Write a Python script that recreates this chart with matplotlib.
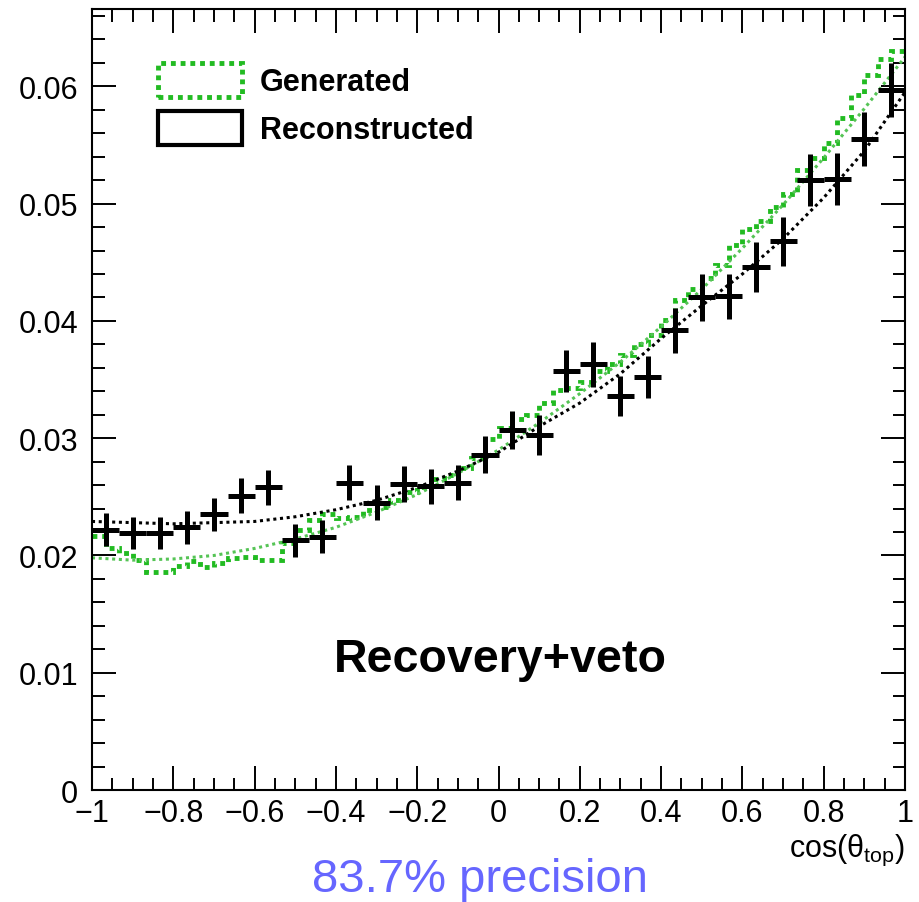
import numpy as np
import matplotlib
matplotlib.use('Agg')
import matplotlib.pyplot as plt
from matplotlib.patches import Patch

plt.rcParams['font.family'] = ['Liberation Sans', 'DejaVu Sans']
plt.rcParams['mathtext.fontset'] = 'custom'
plt.rcParams['mathtext.rm'] = 'Liberation Sans'
plt.rcParams['mathtext.it'] = 'Liberation Sans:italic'

# reconstructed histogram, 30 bins in cos(theta_top)
reco_edges = np.linspace(-1, 1, 31)
reco_vals = [0.0222, 0.0219, 0.0219, 0.0224, 0.0235, 0.0251, 0.0258, 0.0213, 0.0216, 0.0262,
             0.0245, 0.0261, 0.0259, 0.0262, 0.0286, 0.0307, 0.0303, 0.0357, 0.0363, 0.0336,
             0.0352, 0.0392, 0.0420, 0.0421, 0.0446, 0.0468, 0.0520, 0.0521, 0.0555, 0.0597]
reco_errs = [0.0014, 0.00135, 0.00135, 0.0014, 0.0014, 0.0015, 0.0015, 0.0014, 0.0014, 0.0015,
             0.0015, 0.0015, 0.0015, 0.0015, 0.0016, 0.0016, 0.0017, 0.0018, 0.0019, 0.0017,
             0.0018, 0.0019, 0.0020, 0.0019, 0.0021, 0.0021, 0.0022, 0.0022, 0.0023, 0.0023]

# generated histogram, 60 bins
gen_edges = np.linspace(-1, 1, 61)
gen_vals = [0.0217, 0.0206, 0.0202, 0.0196, 0.0186, 0.0186, 0.0191, 0.0195, 0.0190, 0.0194,
            0.0198, 0.0199, 0.0196, 0.0196, 0.0211, 0.0222, 0.0230, 0.0235, 0.0232, 0.0233,
            0.0239, 0.0241, 0.0247, 0.0254, 0.0258, 0.0265, 0.0269, 0.0275, 0.0283, 0.0299,
            0.0309, 0.0316, 0.0320, 0.0330, 0.0341, 0.0343, 0.0348, 0.0357, 0.0363, 0.0371,
            0.0380, 0.0388, 0.0401, 0.0418, 0.0427, 0.0437, 0.0448, 0.0465, 0.0478, 0.0485,
            0.0497, 0.0508, 0.0529, 0.0539, 0.0552, 0.0573, 0.0593, 0.0610, 0.0623, 0.0630]

# fit curves read at cos = -1, -0.9, ..., 1
fit_x = [-1.0, -0.9, -0.8, -0.7, -0.6, -0.5, -0.4, -0.3, -0.2, -0.1, 0.0,
         0.1, 0.2, 0.3, 0.4, 0.5, 0.6, 0.7, 0.8, 0.9, 1.0]
fit_gen = [0.0198, 0.0196, 0.0197, 0.0200, 0.0206, 0.0214, 0.0224, 0.0237, 0.0252, 0.0270, 0.0290,
           0.0313, 0.0338, 0.0365, 0.0395, 0.0427, 0.0462, 0.0499, 0.0539, 0.0581, 0.0625]
fit_reco = [0.0229, 0.0228, 0.0227, 0.0228, 0.0229, 0.0233, 0.0239, 0.0247, 0.0258, 0.0272, 0.0288,
            0.0310, 0.0330, 0.0355, 0.0385, 0.0413, 0.0440, 0.0470, 0.0505, 0.0545, 0.0595]

xticks = [-1, -0.8, -0.6, -0.4, -0.2, 0, 0.2, 0.4, 0.6, 0.8, 1]
xtick_labels = ['\u22121', '\u22120.8', '\u22120.6', '\u22120.4', '\u22120.2', '0',
                '0.2', '0.4', '0.6', '0.8', '1']
yticks = [0, 0.01, 0.02, 0.03, 0.04, 0.05, 0.06]
ytick_labels = ['0', '0.01', '0.02', '0.03', '0.04', '0.05', '0.06']

green = '#22bb22'
green_fit = '#55c455'

fig = plt.figure(figsize=(9.2, 9.03), dpi=100)
ax = fig.add_axes([0.1, 0.124, 0.8837, 0.865])

ax.stairs(gen_vals, gen_edges, baseline=None, color=green, lw=3.5, linestyle=(0, (1, 1)))
ax.plot(fit_x, fit_gen, color=green_fit, lw=2.2, linestyle=(0, (1, 1.2)))
ax.plot(fit_x, fit_reco, color='black', lw=2.2, linestyle=(0, (1, 1.2)))

centers = 0.5 * (reco_edges[:-1] + reco_edges[1:])
half = 0.5 * np.diff(reco_edges)
ax.errorbar(centers, reco_vals, xerr=half, yerr=reco_errs, fmt='none',
            ecolor='black', elinewidth=3.6, capsize=0)

ax.set_xlim(-1, 1)
ax.set_ylim(0, 0.0666)
ax.set_xticks(xticks)
ax.set_xticklabels(xtick_labels)
ax.set_yticks(yticks)
ax.set_yticklabels(ytick_labels)
ax.set_xticks(np.arange(-1, 1.001, 0.05), minor=True)
ax.set_yticks(np.arange(0, 0.0661, 0.002), minor=True)
ax.tick_params(which='both', direction='in', top=True, right=True, width=1.4, labelsize=22)
ax.tick_params(which='major', length=17)
ax.tick_params(which='minor', length=9)
ax.tick_params(axis='y', pad=10)
ax.tick_params(axis='x', pad=6)
for s in ax.spines.values():
    s.set_linewidth(1.5)

handles = [Patch(facecolor='none', edgecolor=green, lw=3.5, linestyle=(0, (1, 1))),
           Patch(facecolor='white', edgecolor='black', lw=3)]
ax.legend(handles, ['Generated', 'Reconstructed'], loc='upper left',
          bbox_to_anchor=(0.081, 0.931), frameon=False, borderpad=0, borderaxespad=0,
          handlelength=2.75, handleheight=1.35, handletextpad=0.6, labelspacing=0.45,
          prop={'weight': 'bold', 'size': 22})

ax.text(0.502, 0.168, 'Recovery+veto', transform=ax.transAxes, ha='center', va='center',
        fontsize=33.5, fontweight='bold')
fig.text(0.984, 0.058, r'cos(θ$_{\mathrm{top}}$)', ha='right', va='center', fontsize=22)
fig.text(0.522, 0.025, '83.7% precision', ha='center', va='center', fontsize=34, color='#6666ff')

fig.savefig('out.png', dpi=100)
